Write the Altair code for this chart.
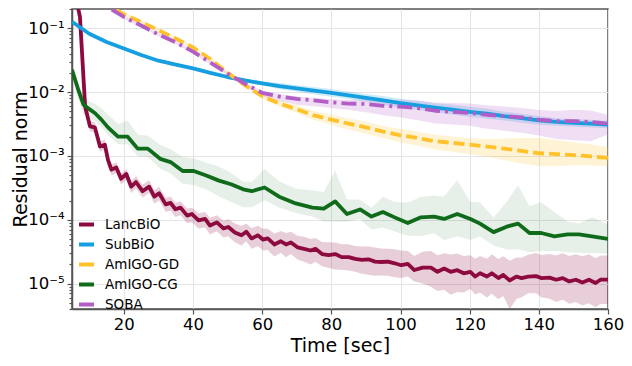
import altair as alt
import numpy as np
import pandas as pd

NAMES = ["LancBiO", "SubBiO", "AmIGO-GD", "AmIGO-CG", "SOBA"]
COLORS = ["#8c0a3f", "#169fe0", "#ffc22b", "#0f6b1a", "#b35dc6"]

T5 = [5, 10, 15, 20, 25, 30, 35, 40, 45, 50, 55, 60, 65, 70, 75, 80, 85, 90, 95, 100,
      105, 110, 115, 120, 125, 130, 135, 140, 145, 150, 155, 160]

# LancBiO
lanc_t = [5, 7.3, 8.8, 10.2, 11.6, 13.1, 14.5, 15.4, 16.4, 17.8,
          19.2, 20.7, 22.1, 23.5, 25.4, 27.3, 28.8, 30.2, 32.1, 33.5,
          34.9, 36.4, 38.3, 39.7, 41.6, 43.5, 44.9, 46.9, 48.8, 50.2,
          52.1, 54.0, 55.4, 56.9, 58.8, 60.2, 61.6, 63.5, 65.4, 66.9,
          68.3, 70.2, 72.1, 74.0, 75.4, 77.3, 79.2, 81.1, 83.0, 85.0,
          86.9, 88.8, 90.7, 92.6, 94.5, 96.4, 98.3, 100.2, 102.1, 104.0,
          106.4, 108.8, 110.7, 112.6, 114.5, 116.4, 118.3, 120.2, 121.6, 123.0,
          125.0, 126.4, 128.3, 129.7, 131.6, 133.5, 135.0, 136.9, 139.2, 140.7,
          143.1, 145.0, 146.9, 148.8, 150.7, 152.6, 154.5, 156.4, 157.8, 160]
lanc_v = [0.6, 0.15, 0.0059, 0.0029, 0.0028, 0.0014, 0.0015, 0.00087, 0.00061, 0.00066,
          0.00044, 0.00052, 0.00033, 0.00039, 0.00028, 0.00033, 0.00023, 0.00026, 0.000174, 0.000184,
          0.000146, 0.000155, 0.000116, 0.000123, 0.000098, 0.000103, 0.000081, 0.000091, 0.000073, 0.000077,
          0.000063, 0.000057, 0.000065, 0.000051, 0.000057, 0.000049, 0.000051, 0.000041, 0.000046, 0.000041,
          0.000044, 0.000037, 0.000035, 0.000033, 0.000035, 0.000029, 0.000028, 0.000029, 0.000026, 0.000026,
          0.0000244, 0.0000236, 0.000024, 0.0000221, 0.0000218, 0.0000221, 0.0000208, 0.0000194, 0.0000204, 0.0000163,
          0.0000178, 0.0000178, 0.0000153, 0.0000172, 0.0000153, 0.0000162, 0.0000145, 0.0000153, 0.0000129, 0.0000145,
          0.0000129, 0.0000145, 0.0000122, 0.0000137, 0.0000112, 0.0000129, 0.0000122, 0.0000129, 0.0000131, 0.0000122,
          0.0000124, 0.0000115, 0.0000122, 0.0000108, 0.0000115, 0.0000104, 0.0000115, 0.0000102, 0.0000115, 0.0000115]
lanc_up = [0.05, 0.05, 0.08, 0.08, 0.08, 0.08, 0.08, 0.08, 0.08, 0.08,
           0.08, 0.08, 0.09, 0.09, 0.1, 0.1, 0.1, 0.1, 0.1, 0.1,
           0.1, 0.1, 0.11, 0.1, 0.11, 0.11, 0.12, 0.11, 0.12, 0.12,
           0.14, 0.15, 0.13, 0.16, 0.15, 0.17, 0.15, 0.17, 0.16, 0.18,
           0.17, 0.18, 0.19, 0.18, 0.17, 0.19, 0.2, 0.18, 0.2, 0.2,
           0.2, 0.21, 0.2, 0.22, 0.21, 0.2, 0.22, 0.23, 0.2, 0.22,
           0.25, 0.26, 0.26, 0.24, 0.27, 0.26, 0.27, 0.26, 0.28, 0.27,
           0.28, 0.3, 0.3, 0.29, 0.31, 0.3, 0.32, 0.34, 0.36, 0.36,
           0.37, 0.38, 0.39, 0.4, 0.4, 0.41, 0.4, 0.39, 0.38, 0.38]
lanc_dn = [0.05, 0.05, 0.08, 0.08, 0.08, 0.08, 0.08, 0.09, 0.09, 0.09,
           0.09, 0.09, 0.1, 0.1, 0.1, 0.1, 0.11, 0.11, 0.12, 0.12,
           0.12, 0.12, 0.12, 0.13, 0.13, 0.13, 0.14, 0.14, 0.14, 0.15,
           0.15, 0.16, 0.15, 0.16, 0.17, 0.17, 0.18, 0.19, 0.18, 0.2,
           0.18, 0.19, 0.2, 0.22, 0.2, 0.19, 0.2, 0.24, 0.2, 0.21,
           0.2, 0.22, 0.24, 0.22, 0.21, 0.22, 0.22, 0.2, 0.2, 0.18,
           0.25, 0.3, 0.3, 0.33, 0.36, 0.34, 0.3, 0.27, 0.28, 0.3,
           0.33, 0.32, 0.33, 0.33, 0.45, 0.35, 0.3, 0.26, 0.27, 0.3,
           0.33, 0.35, 0.34, 0.35, 0.35, 0.36, 0.37, 0.38, 0.38, 0.38]

# SubBiO
sub_v = [0.126, 0.082, 0.061, 0.048, 0.038, 0.031, 0.027, 0.0235, 0.020, 0.0172, 0.0152,
         0.0137, 0.0124, 0.0114, 0.0105, 0.0097, 0.0089, 0.0081, 0.0074, 0.0067, 0.0062,
         0.0057, 0.0053, 0.0049, 0.0046, 0.0042, 0.0039, 0.0036, 0.0034, 0.0033, 0.0032, 0.0031]
sub_up = [0.02] * 9 + [0.03, 0.03, 0.03] + [0.05, 0.05, 0.06, 0.06, 0.06, 0.06, 0.07, 0.07, 0.07, 0.07,
                                             0.08, 0.08, 0.08, 0.07, 0.07, 0.07, 0.06, 0.06, 0.06, 0.06]
sub_dn = [0.02] * 9 + [0.03, 0.03, 0.03] + [0.05, 0.05, 0.06, 0.06, 0.06, 0.06, 0.07, 0.07, 0.07, 0.07,
                                             0.08, 0.08, 0.08, 0.07, 0.07, 0.07, 0.06, 0.06, 0.06, 0.06]

# AmIGO-GD
gd_v = [1.0, 0.45, 0.24, 0.165, 0.125, 0.093, 0.069, 0.050, 0.033, 0.020, 0.0128,
        0.0086, 0.0066, 0.0054, 0.0043, 0.0037, 0.0032, 0.0028, 0.0024, 0.0021, 0.0019,
        0.0017, 0.0016, 0.0015, 0.0014, 0.0013, 0.0012, 0.0011, 0.00107, 0.00103, 0.00098, 0.00093]
gd_up = [0.03] * 11 + [0.04, 0.05, 0.06, 0.07, 0.08, 0.08, 0.09, 0.09, 0.1, 0.1, 0.1,
                       0.1, 0.1, 0.12, 0.16, 0.2, 0.24, 0.22, 0.2, 0.19, 0.17]
gd_dn = [0.03] * 11 + [0.04, 0.05, 0.06, 0.07, 0.08, 0.09, 0.1, 0.1, 0.11, 0.12, 0.13,
                       0.14, 0.15, 0.16, 0.18, 0.2, 0.2, 0.19, 0.16, 0.14, 0.13]

# AmIGO-CG
cg_t = [5, 6.9, 8.3, 10, 11.6, 13.5, 15.4, 18.3, 21.1, 24.0,
        26.9, 30.5, 33.5, 37.0, 40.2, 44.0, 47.5, 51.0, 54.5, 57.0,
        60.7, 64.9, 69.7, 74.5, 77.8, 81.1, 84.5, 88.3, 91.6, 94.9,
        98.3, 102.1, 105.9, 109.7, 112.6, 116.4, 120.2, 123.0, 126.9, 130.7,
        134.0, 137.3, 140.7, 144.5, 148.3, 151.6, 155.4, 160]
cg_v = [0.0224, 0.0105, 0.0064, 0.0054, 0.0047, 0.0037, 0.0028, 0.0020, 0.0020, 0.0013,
        0.0013, 0.0009, 0.0008, 0.00058, 0.00058, 0.00049, 0.00041, 0.00036, 0.00030, 0.00028,
        0.00032, 0.00023, 0.00018, 0.000155, 0.000149, 0.000194, 0.000123, 0.000145, 0.000112, 0.000132,
        0.000109, 0.000089, 0.000109, 0.000112, 0.000103, 0.000123, 0.000103, 0.000087, 0.000064, 0.000078,
        0.000087, 0.000062, 0.000062, 0.000055, 0.000059, 0.000059, 0.000055, 0.00005]
cg_up = [0.05, 0.1, 0.12, 0.12, 0.15, 0.18, 0.2, 0.2, 0.25, 0.22,
         0.2, 0.22, 0.2, 0.22, 0.2, 0.2, 0.22, 0.18, 0.12, 0.15,
         0.29, 0.24, 0.23, 0.27, 0.26, 0.48, 0.23, 0.15, 0.14, 0.24,
         0.24, 0.32, 0.32, 0.33, 0.35, 0.53, 0.27, 0.33, 0.23, 0.39,
         0.6, 0.42, 0.48, 0.38, 0.2, 0.17, 0.3, 0.23]
cg_dn = [0.1, 0.15, 0.15, 0.15, 0.12, 0.12, 0.12, 0.12, 0.12, 0.12,
         0.13, 0.15, 0.18, 0.2, 0.22, 0.22, 0.25, 0.28, 0.28, 0.25,
         0.2, 0.17, 0.15, 0.14, 0.2, 0.32, 0.12, 0.15, 0.2, 0.24,
         0.22, 0.2, 0.29, 0.26, 0.33, 0.35, 0.33, 0.2, 0.21, 0.36,
         0.4, 0.3, 0.28, 0.23, 0.28, 0.29, 0.26, 0.23]

# SOBA
soba_v = [0.8, 0.4, 0.22, 0.15, 0.11, 0.080, 0.060, 0.043, 0.029, 0.0195, 0.0135,
          0.0097, 0.0085, 0.0078, 0.0074, 0.0069, 0.0066, 0.0065, 0.0061, 0.0059, 0.0056,
          0.0051, 0.0049, 0.0047, 0.0044, 0.0042, 0.0040, 0.0037, 0.0035, 0.0035, 0.0034, 0.0032]
soba_up = [0.02] * 11 + [0.03, 0.04, 0.04, 0.04, 0.05, 0.06, 0.08, 0.1, 0.11, 0.12, 0.13,
                         0.14, 0.15, 0.15, 0.15, 0.15, 0.15, 0.16, 0.18, 0.18, 0.14]
soba_dn = [0.03] * 11 + [0.05, 0.07, 0.09, 0.09, 0.09, 0.1, 0.13, 0.15, 0.17, 0.19, 0.2,
                         0.2, 0.2, 0.22, 0.23, 0.24, 0.25, 0.28, 0.3, 0.3, 0.17]

X_TICKS = [20, 40, 60, 80, 100, 120, 140, 160]
Y_DOMAIN = [4e-6, 0.2]
X_DOMAIN = [5, 160]


def make(t, v, up, dn, name):
    df = pd.DataFrame({"t": t, "v": v, "up": up, "dn": dn})
    lv = np.log10(df["v"])
    df["hi"] = 10 ** (lv + df["up"])
    df["lo"] = 10 ** (lv - df["dn"])
    df["series"] = name
    return df


frames = {
    "LancBiO": make(lanc_t, lanc_v, lanc_up, lanc_dn, "LancBiO"),
    "SubBiO": make(T5, sub_v, sub_up, sub_dn, "SubBiO"),
    "AmIGO-GD": make(T5, gd_v, gd_up, gd_dn, "AmIGO-GD"),
    "AmIGO-CG": make(cg_t, cg_v, cg_up, cg_dn, "AmIGO-CG"),
    "SOBA": make(T5, soba_v, soba_up, soba_dn, "SOBA"),
}
band_alpha = {"LancBiO": 0.2, "SubBiO": 0.2, "AmIGO-GD": 0.2, "AmIGO-CG": 0.1, "SOBA": 0.2}
dashes = {"LancBiO": None, "SubBiO": None, "AmIGO-GD": [11, 5], "AmIGO-CG": None, "SOBA": [15, 5, 3, 5]}

decade = "abs(log(datum.value)/LN10 - round(log(datum.value)/LN10)) < 0.01"
y_ticks = sorted({round(k * 10.0 ** e, 12) for e in range(-6, 0) for k in range(1, 10)
                  if 4e-6 - 1e-12 <= k * 10.0 ** e <= 0.2 + 1e-12})

PW, PH = 536, 300

x_enc = alt.X("t:Q", scale=alt.Scale(domain=X_DOMAIN, nice=False, zero=False),
              axis=alt.Axis(values=X_TICKS, title="Time [sec]", labelFontSize=16.5,
                            titleFontSize=19, titleFontWeight="normal", tickSize=5,
                            labelPadding=2, labelFlush=False, titleX=PW / 2, titleY=27,
                            titleBaseline="top", grid=True))
y_axis = alt.Axis(values=y_ticks,
                  labelExpr="abs(log(datum.value)/LN10 - round(log(datum.value)/LN10)) > 0.01 ? '' : "
                            "['10⁻⁵','10⁻⁴','10⁻³','10⁻²','10⁻¹'][round(log(datum.value)/LN10)+5]",
                  tickSize={"condition": {"test": decade, "value": 5}, "value": 3},
                  gridOpacity={"condition": {"test": decade, "value": 1}, "value": 0},
                  title="Residual norm", titleFontSize=19, titleFontWeight="normal",
                  titleAngle=-90, titleX=-46, titleY=PH / 2, titleBaseline="alphabetic",
                  labelFontSize=16.5, labelPadding=3, labelFlush=False, grid=True)
y_scale = alt.Scale(type="log", domain=Y_DOMAIN, nice=False)

layers = []
for name in NAMES:
    df = frames[name]
    c = COLORS[NAMES.index(name)]
    layers.append(
        alt.Chart(df).mark_area(clip=True, color=c, opacity=band_alpha[name], interpolate="linear")
        .encode(x=x_enc, y=alt.Y("lo:Q", scale=y_scale, axis=y_axis), y2="hi:Q")
    )
for name in NAMES:
    df = frames[name]
    kw = dict(clip=True, strokeWidth=3.8, strokeJoin="round")
    if dashes[name]:
        kw["strokeDash"] = dashes[name]
    layers.append(
        alt.Chart(df).mark_line(**kw).encode(
            x=x_enc,
            y=alt.Y("v:Q", scale=y_scale, axis=y_axis),
            color=alt.Color("series:N", scale=alt.Scale(domain=NAMES, range=COLORS),
                            legend=alt.Legend(title=None, orient="none", legendX=5, legendY=206,
                                              symbolType="stroke", symbolStrokeWidth=4,
                                              symbolSize=225, labelFontSize=13.5, labelOffset=9,
                                              rowPadding=2, padding=0)),
        )
    )

chart = alt.layer(*layers).properties(
    width=PW, height=PH,
    autosize=alt.AutoSizeParams(type="none"),
    padding={"left": 64, "top": 1, "right": 16, "bottom": 49},
).configure(font="DejaVu Sans").configure_view(
    stroke="#555555", strokeWidth=1.5
).configure_axis(
    domainColor="#555555", domainWidth=1.5, tickColor="#555555", tickWidth=1.2,
    gridColor="#e4e4e4", gridWidth=1, labelColor="black", titleColor="black",
    labelFont="DejaVu Sans", titleFont="DejaVu Sans"
).configure_legend(labelFont="DejaVu Sans", labelColor="black")

chart.save("out.html", embed_options={"renderer": "svg", "actions": False})
